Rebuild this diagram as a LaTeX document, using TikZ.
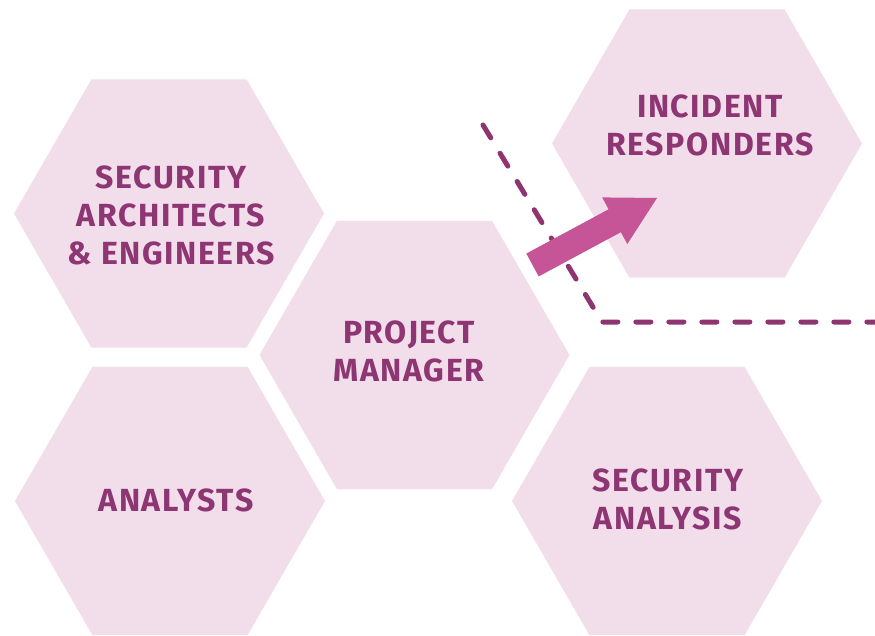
\documentclass[tikz,border=0pt]{standalone}
\usepackage{fontspec}
\usetikzlibrary{calc,shapes.geometric}
\newfontfamily\lblfont{Fira Sans}[LetterSpace=5]
\definecolor{hexpink}{HTML}{F2DDEA}
\definecolor{txtplum}{HTML}{8E3573}
\definecolor{dashplum}{HTML}{8E3470}
\definecolor{arrowpink}{HTML}{C65598}
\tikzset{
  hex/.style={regular polygon, regular polygon sides=6, minimum size=310pt, inner sep=0pt, fill=hexpink, draw=none},
  lbl/.style={font=\lblfont\bfseries\fontsize{32}{38}\selectfont, text=txtplum, align=center, inner sep=0pt},
  dashline/.style={draw=dashplum, line width=5pt, line cap=round, line join=round, dash pattern=on 15pt off 18pt},
  arrowfill/.style={fill=arrowpink, draw=none}
}
\begin{document}
\begin{tikzpicture}[x=1pt,y=-1pt]
\clip (0,0) rectangle (875,636);
\fill[white] (0,0) rectangle (875,636);
% hexagons
\node[hex] (sae) at (169,213.5) {};
\node[hex] (ana) at (170,501) {};
\node[hex] (pm)  at (414.5,355) {};
\node[hex] (ir)  at (707,143.5) {};
\node[hex] (sa)  at (667,501) {};
% labels
\node[lbl] (saeT) at (171,215) {SECURITY\\ARCHITECTS\\\& ENGINEERS};
\node[lbl] (anaT) at (176,500.5) {ANALYSTS};
\node[lbl] (pmT)  at (409,351.5) {PROJECT\\MANAGER};
\node[lbl] (irT)  at (710,125) {INCIDENT\\RESPONDERS};
\node[lbl] (saT)  at (668,499) {SECURITY\\ANALYSIS};
% dashed boundary
\coordinate (dA) at (483,125);
\coordinate (dB) at (602,322);
\coordinate (dC) at (880,322);
\draw[dashline] (dA) -- (dB) -- (dC);
% arrow
\coordinate (tail) at (532.5,265);
\coordinate (tip) at (657,198);
\coordinate (hb) at ($(tip)!48pt!(tail)$);
\fill[arrowfill]
  ($(tail)!13pt!90:(tip)$) --
  ($(hb)!13pt!90:(tip)$) --
  ($(hb)!26.5pt!90:(tip)$) --
  (tip) --
  ($(hb)!26.5pt!-90:(tip)$) --
  ($(hb)!13pt!-90:(tip)$) --
  ($(tail)!13pt!-90:(tip)$) -- cycle;
\end{tikzpicture}
\end{document}
